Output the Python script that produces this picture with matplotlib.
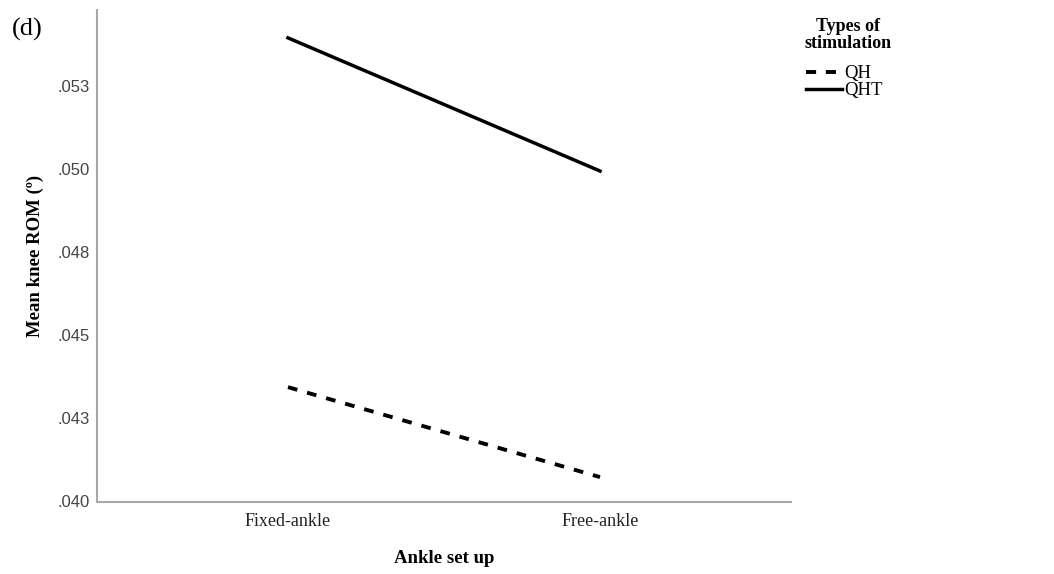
import matplotlib
matplotlib.use("Agg")
import matplotlib.pyplot as plt
from matplotlib.lines import Line2D

# Data
categories = ["Fixed-ankle", "Free-ankle"]
series_names = ["QH", "QHT"]
qh_values = [0.04343, 0.04072]
qht_values = [0.05395, 0.04994]
y_ticks = [0.0400, 0.0425, 0.0450, 0.0475, 0.0500, 0.0525]
y_tick_labels = [".040", ".043", ".045", ".048", ".050", ".053"]
legend_title = "Types of\nstimulation"

serif = ["Liberation Serif", "DejaVu Serif"]
sans = ["Liberation Sans", "DejaVu Sans"]

fig = plt.figure(figsize=(10.54, 5.74), dpi=100)
ax = fig.add_axes([97/1054, 1-502/574, (791-97)/1054, (502-10)/574])

x = list(range(len(categories)))
ax.plot(x, qh_values, color="black", lw=2.8, linestyle=(0, (2.5, 2.6)), label="QH")
ax.plot(x, qht_values, color="black", lw=2.5, linestyle="-", label="QHT")

ax.set_xlim(-0.612, 1.612)
ax.set_ylim(0.03997, 0.05479)
ax.set_xticks(x)
ax.set_xticklabels(categories, fontfamily=serif, fontsize=13, color="#222222")
ax.set_yticks(y_ticks)
ax.set_yticklabels(y_tick_labels, fontfamily=sans, fontsize=12, color="#444444")
ax.tick_params(length=0, pad=5)
ax.tick_params(axis="x", pad=8)

for s in ["top", "right"]:
    ax.spines[s].set_visible(False)
for s in ["left", "bottom"]:
    ax.spines[s].set_color("#a8a8a8")
    ax.spines[s].set_linewidth(1.5)

ax.set_xlabel("Ankle set up", fontfamily=serif, fontsize=13.5, fontweight="bold", labelpad=14)
ax.set_ylabel("Mean knee ROM (º)", fontfamily=serif, fontsize=13.5, fontweight="bold", labelpad=10)

fig.text(12/1054, 1-29/574, "(d)", fontfamily=serif, fontsize=19, va="center", ha="left")

fig.text(848/1054, 1-35/574, legend_title, fontfamily=serif, fontsize=13,
         fontweight="bold", ha="center", va="center", multialignment="center",
         linespacing=1.05)

handles = [Line2D([], [], color="black", lw=2.8, linestyle=(0, (2.6, 2.5))),
           Line2D([], [], color="black", lw=2.5, linestyle="-")]
leg = fig.legend(handles, series_names, loc="upper left",
                 bbox_to_anchor=(806/1054, 1-65/574), frameon=False,
                 prop={"family": serif, "size": 13.5},
                 handlelength=1.9, handletextpad=0.15, labelspacing=0.0,
                 borderpad=0, borderaxespad=0)

fig.savefig("out.png", dpi=100)
